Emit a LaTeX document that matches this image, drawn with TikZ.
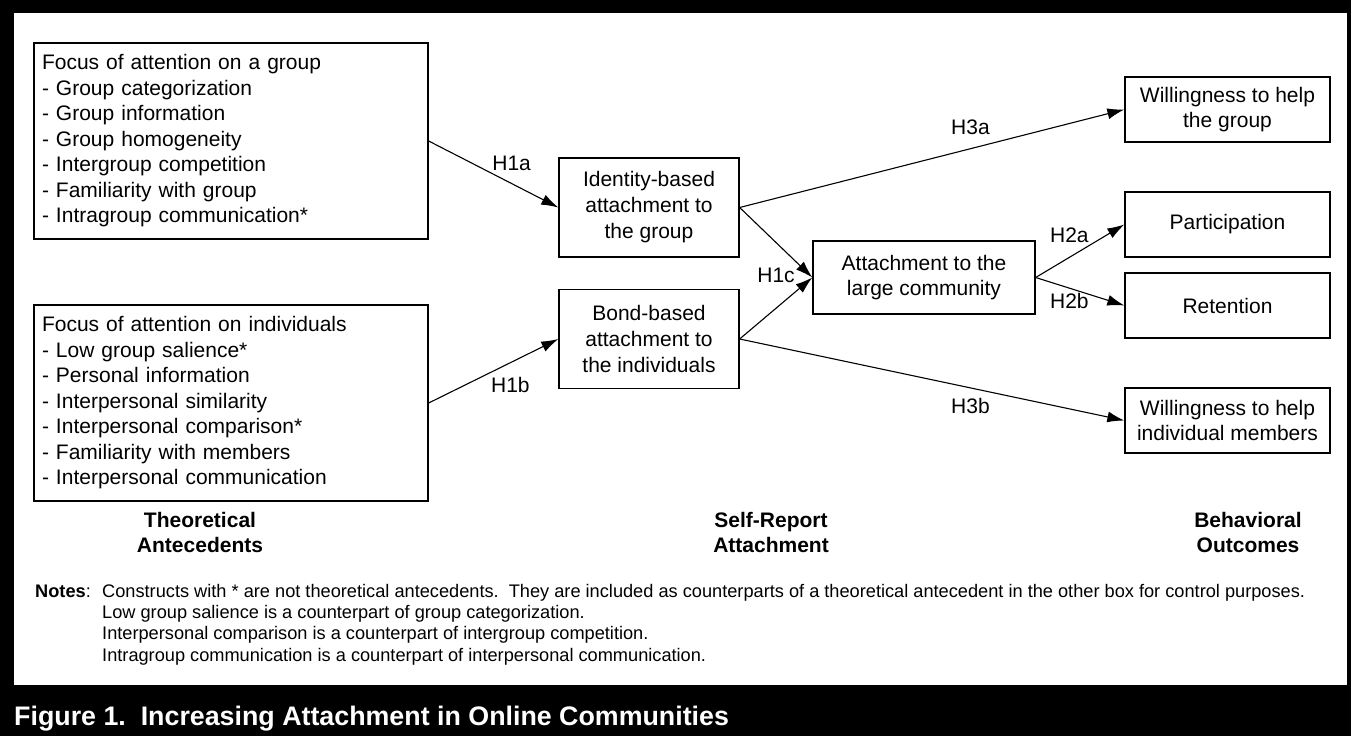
\documentclass[tikz,border=0pt]{standalone}
\usepackage{fontspec}
\setmainfont{Liberation Sans}
\usetikzlibrary{arrows.meta,positioning}

\begin{document}
\begin{tikzpicture}[
  x=1pt,y=-1pt,
  font=\fontsize{21}{25.5}\selectfont,>={Latex[length=17pt,width=11pt]},
  box/.style={draw, line width=1.3pt, inner sep=0pt, align=center},
  list/.style={box, align=left, text width=378pt, inner xsep=8pt, minimum height=196pt},
  mid/.style={box, minimum width=180pt, minimum height=99pt, font=\fontsize{21}{26}\selectfont},
  outc/.style={box, minimum width=205pt, minimum height=65pt},
  lbl/.style={inner sep=2pt},
  head/.style={font=\bfseries\fontsize{21}{25}\selectfont, align=center},
  note/.style={font=\fontsize{18.2}{21.3}\selectfont, align=left, inner sep=0pt},
  link/.style={->, line width=1.1pt},
]
% frame
\useasboundingbox (0,0) rectangle (1351,736);
\fill[black] (0,0) rectangle (1351,736);
\fill[white] (14,13) rectangle (1347,685);
% antecedents
\node[list] (grp) at (231,141)
  {Focus of attention on a group\\- Group categorization\\- Group information\\- Group homogeneity\\- Intergroup competition\\- Familiarity with group\\- Intragroup communication*};
\node[list] (ind) at (231,403)
  {Focus of attention on individuals\\- Low group salience*\\- Personal information\\- Interpersonal similarity\\- Interpersonal comparison*\\- Familiarity with members\\- Interpersonal communication};
% self-report attachment
\node[mid] (ident) at (649,207.5) {Identity-based\\attachment to\\the group};
\node[mid] (bond) at (649,339) {Bond-based\\attachment to\\the individuals};
\node[box, minimum width=222pt, minimum height=73pt] (comm) at (924,277.5) {Attachment to the\\large community};
% behavioral outcomes
\node[outc] (helpgrp) at (1227.5,109.5) {Willingness to help\\the group};
\node[outc] (part) at (1227.5,224.5) {Participation};
\node[outc] (ret) at (1227.5,305.5) {Retention};
\node[outc] (helpind) at (1227.5,420.5) {Willingness to help\\individual members};
% hypotheses
\draw[link] (grp.east) -- node[lbl, above=10pt, pos=0.64] {H1a} (ident.west);
\draw[link] (ind.east) -- node[lbl, below=12pt, pos=0.63] {H1b} (bond.west);
\draw[link] (ident.east) -- (comm.west);
\draw[link] (bond.east) -- (comm.west);
\node[lbl] (h1c) at (776,275) {H1c};
\draw[link] (ident.east) -- node[lbl, above=11pt, pos=0.6] {H3a} (helpgrp.west);
\draw[link] (bond.east) -- node[lbl, below=8pt, pos=0.6] {H3b} (helpind.west);
\draw[link] (comm.east) -- node[lbl, above=12pt, pos=0.38] {H2a} (part.west);
\draw[link] (comm.east) -- node[lbl, below=3pt, pos=0.38] {H2b} (ret.west);
% column titles
\node[head] (thr) at (200,532) {Theoretical\\Antecedents};
\node[head] (self) at (771,532) {Self-Report\\Attachment};
\node[head] (beh) at (1248,532) {Behavioral\\Outcomes};
% notes
\node[note, anchor=base west] (nhead) at (35,597) {\textbf{Notes}:};
\node[note, anchor=north west] (ntext) at (102,584)
  {Constructs with * are not theoretical antecedents.\ \ They are included as counterparts of a theoretical antecedent in the other box for control purposes.\\
   Low group salience is a counterpart of group categorization.\\
   Interpersonal comparison is a counterpart of intergroup competition.\\
   Intragroup communication is a counterpart of interpersonal communication.};
% caption bar
\node[anchor=base west, inner sep=0pt, text=white, font=\bfseries\fontsize{26.8}{30}\selectfont] (cap) at (14,725)
  {Figure 1.\ \ Increasing Attachment in Online Communities};
\end{tikzpicture}
\end{document}
